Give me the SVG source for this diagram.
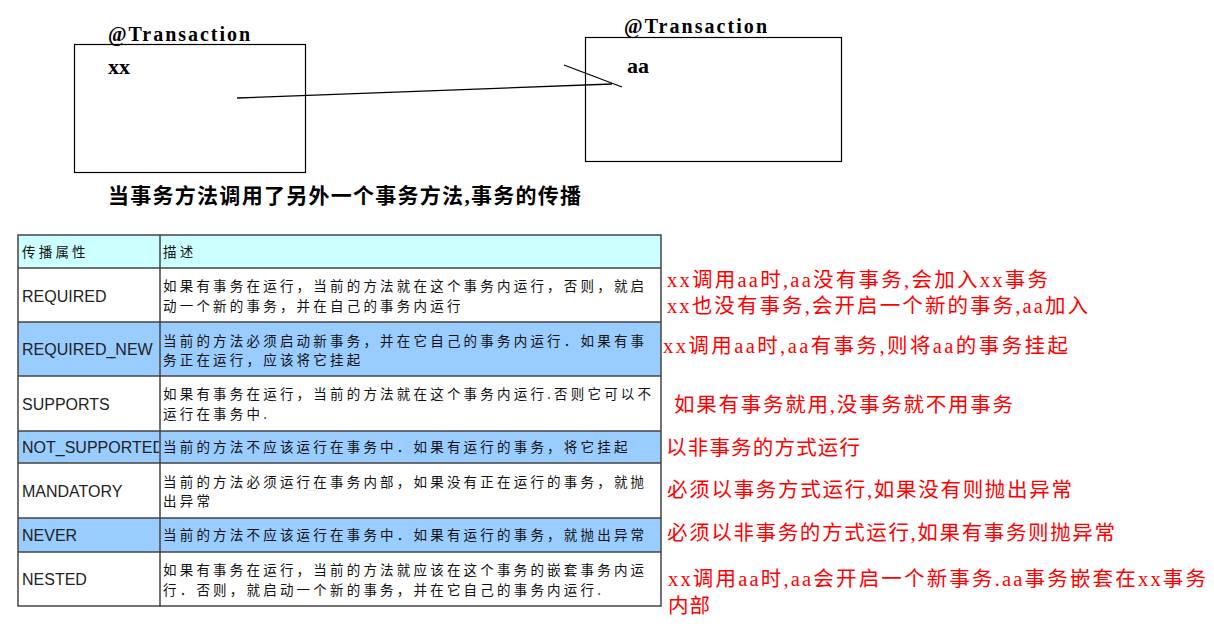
<svg xmlns="http://www.w3.org/2000/svg" width="1214" height="629" viewBox="0 0 1214 629">
<style>
.box{fill:#fff;stroke:#000;stroke-width:1.2}
.mono{font-family:"Liberation Serif","Noto Sans CJK SC",serif;font-size:20px;font-weight:bold;fill:#000}
.var{font-family:"Liberation Serif","Noto Sans CJK SC",serif;font-size:22px;font-weight:bold;fill:#000}
.cap{font-family:"Liberation Serif","Noto Sans CJK SC",serif;font-size:21px;font-weight:bold;fill:#000}
.red{font-family:"Liberation Serif","Noto Sans CJK SC",serif;font-size:20.5px;fill:#ff0000}
.prop{font-family:"Liberation Sans",Arial,sans-serif;font-size:16px;fill:#222}
.desc{font-family:"Noto Sans CJK SC",sans-serif;font-size:13.5px;letter-spacing:3.2px;fill:#111}
.hd{fill:#ccffff}
.bl{fill:#99ccff}
.wh{fill:#ffffff}
.grid{stroke:#444;stroke-width:1.5;fill:none}
.conn{stroke:#000;stroke-width:1.3;fill:none}
</style>
<defs>
<clipPath id="c1"><rect x="18" y="235" width="141" height="372"/></clipPath>
</defs>
<rect width="1214" height="629" fill="#fff"/>

<g id="node-xx">
<rect class="box" x="74.5" y="44.5" width="231" height="128"/>
<text class="mono" x="108" y="41" textLength="142" lengthAdjust="spacing">@Transaction</text>
<text class="var" x="108" y="74">xx</text>
</g>

<g id="node-aa">
<rect class="box" x="585.5" y="37.5" width="256" height="124"/>
<text class="mono" x="624" y="33" textLength="143" lengthAdjust="spacing">@Transaction</text>
<text class="var" x="627" y="73">aa</text>
</g>

<g id="connectors">
<polyline class="conn" points="237,98 612,84"/>
<line class="conn" x1="564" y1="65" x2="622" y2="87"/>
</g>

<g id="caption">
<text class="cap" x="108" y="203" textLength="473" lengthAdjust="spacing">当事务方法调用了另外一个事务方法,事务的传播</text>
</g>

<g id="table">
<rect class="hd" x="18" y="235" width="643" height="33"/>
<rect class="wh" x="18" y="268" width="643" height="54"/>
<rect class="bl" x="18" y="322" width="643" height="54"/>
<rect class="wh" x="18" y="376" width="643" height="55"/>
<rect class="bl" x="18" y="431" width="643" height="32"/>
<rect class="wh" x="18" y="463" width="643" height="55"/>
<rect class="bl" x="18" y="518" width="643" height="34"/>
<rect class="wh" x="18" y="552" width="643" height="54"/>
<path class="grid" d="M18,235H661V606H18Z M160,235V606 M18,268H661 M18,322H661 M18,376H661 M18,431H661 M18,463H661 M18,518H661 M18,552H661"/>

<text class="desc" x="22" y="257">传播属性</text>
<text class="desc" x="163" y="257">描述</text>

<g clip-path="url(#c1)">
<text class="prop" x="22" y="302">REQUIRED</text>
<text class="prop" x="22" y="355">REQUIRED_NEW</text>
<text class="prop" x="22" y="410">SUPPORTS</text>
<text class="prop" x="22" y="453">NOT_SUPPORTED</text>
<text class="prop" x="22" y="497">MANDATORY</text>
<text class="prop" x="22" y="541">NEVER</text>
<text class="prop" x="22" y="585">NESTED</text>
</g>

<text class="desc" x="163" y="291">如果有事务在运行，当前的方法就在这个事务内运行，否则，就启</text>
<text class="desc" x="163" y="311">动一个新的事务，并在自己的事务内运行</text>
<text class="desc" x="163" y="346">当前的方法必须启动新事务，并在它自己的事务内运行．如果有事</text>
<text class="desc" x="163" y="365">务正在运行，应该将它挂起</text>
<text class="desc" x="163" y="399">如果有事务在运行，当前的方法就在这个事务内运行.否则它可以不</text>
<text class="desc" x="163" y="419">运行在事务中.</text>
<text class="desc" x="163" y="452">当前的方法不应该运行在事务中．如果有运行的事务，将它挂起</text>
<text class="desc" x="163" y="487">当前的方法必须运行在事务内部，如果没有正在运行的事务，就抛</text>
<text class="desc" x="163" y="506">出异常</text>
<text class="desc" x="163" y="540">当前的方法不应该运行在事务中．如果有运行的事务，就抛出异常</text>
<text class="desc" x="163" y="575">如果有事务在运行，当前的方法就应该在这个事务的嵌套事务内运</text>
<text class="desc" x="163" y="595">行．否则，就启动一个新的事务，并在它自己的事务内运行.</text>
</g>

<g id="notes">
<text class="red" x="667" y="287" textLength="381" lengthAdjust="spacing">xx调用aa时,aa没有事务,会加入xx事务</text>
<text class="red" x="667" y="313" textLength="421" lengthAdjust="spacing">xx也没有事务,会开启一个新的事务,aa加入</text>
<text class="red" x="663" y="353" textLength="405" lengthAdjust="spacing">xx调用aa时,aa有事务,则将aa的事务挂起</text>
<text class="red" x="674" y="412" textLength="339" lengthAdjust="spacing">如果有事务就用,没事务就不用事务</text>
<text class="red" x="666" y="455" textLength="194" lengthAdjust="spacing">以非事务的方式运行</text>
<text class="red" x="667" y="497" textLength="405" lengthAdjust="spacing">必须以事务方式运行,如果没有则抛出异常</text>
<text class="red" x="667" y="540" textLength="448" lengthAdjust="spacing">必须以非事务的方式运行,如果有事务则抛异常</text>
<text class="red" x="668" y="586" textLength="538" lengthAdjust="spacing">xx调用aa时,aa会开启一个新事务.aa事务嵌套在xx事务</text>
<text class="red" x="668" y="613" textLength="42" lengthAdjust="spacing">内部</text>
</g>
</svg>
